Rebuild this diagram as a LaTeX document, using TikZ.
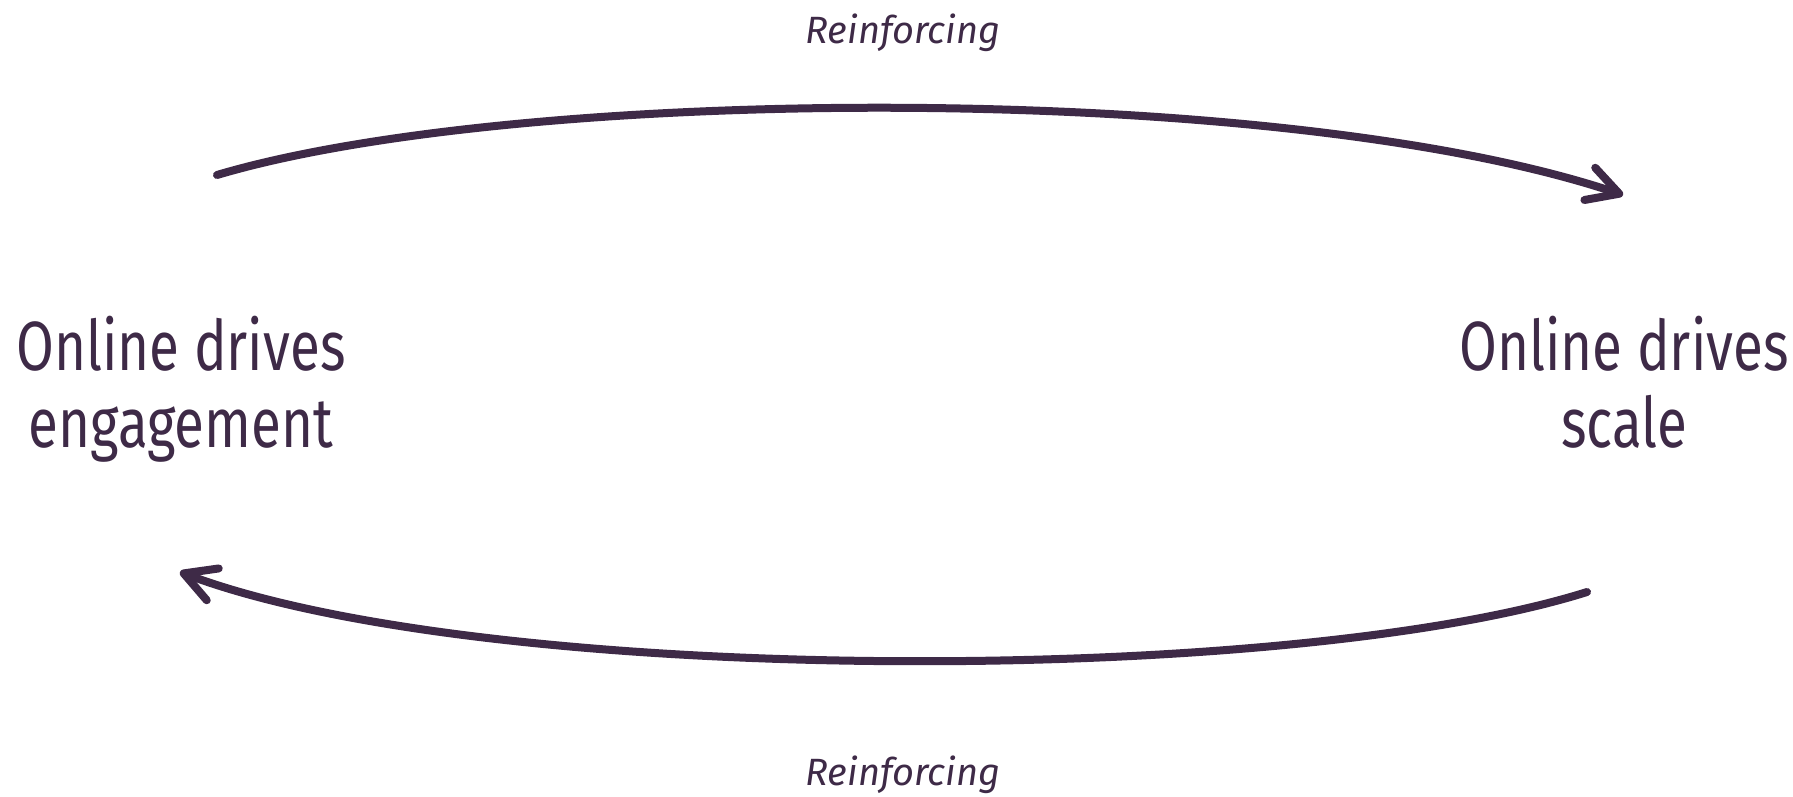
\documentclass[tikz,border=0pt]{standalone}
\usepackage{fontspec}
\setmainfont[FakeStretch=0.785]{Fira Sans}
\newfontfamily\labelfont{Fira Sans}
\usetikzlibrary{arrows.meta}
\definecolor{plum}{HTML}{3E2A47}
\begin{document}
\begin{tikzpicture}[x=1pt,y=-1pt,
  box/.style={text=plum, align=center, anchor=base, inner sep=0pt,
    font=\fontsize{69.7}{77}\selectfont},
  looplabel/.style={text=plum, anchor=base, inner sep=0pt,
    font=\labelfont\itshape\fontsize{38}{40}\selectfont},
  loop/.style={draw=plum, line width=8pt, line cap=round,
    -{Straight Barb[length=31pt,width=34pt,round]}}]
\useasboundingbox (0,0) rectangle (1793,797);
\node[box] (eng) at (181,447) {Online drives\\engagement};
\node[box] (scale) at (1624,447) {Online drives\\scale};
\coordinate (ts) at (217,175);
\coordinate (te) at (1623,195);
\coordinate (bs) at (1587,592);
\coordinate (be) at (180,572);
\draw[loop] (ts) .. controls (520,85) and (1280,80) .. (te);
\draw[loop] (bs) .. controls (1285,687) and (485,687) .. (be);
\node[looplabel] (top) at (903,44) {Reinforcing};
\node[looplabel] (bottom) at (903,785) {Reinforcing};
\end{tikzpicture}
\end{document}
